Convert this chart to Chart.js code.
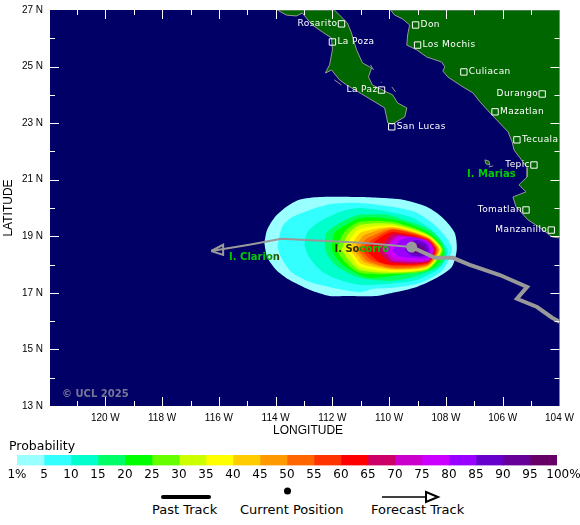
<!DOCTYPE html>
<html>
<head>
<meta charset="utf-8">
<script src="https://cdn.jsdelivr.net/npm/chart.js@4/dist/chart.umd.js"></script>
<style>
  body { margin: 0; background: #fff; }
  canvas, svg, .txt { position: absolute; }
  .txt { font: 13px "DejaVu Sans"; color: #000; white-space: nowrap; }
</style>
</head>
<body>
<canvas id="map" width="580" height="440" style="left:0;top:0"></canvas>
<canvas id="bar" width="580" height="42" style="left:0;top:440px"></canvas>
<div class="txt" style="left:9px;top:438px;font-size:12.5px">Probability</div>
<svg width="580" height="30" style="left:0;top:482px">
  <line x1="163" y1="15" x2="209" y2="15" stroke="#000" stroke-width="4" stroke-linecap="round"/>
  <circle cx="287.5" cy="9" r="3.5" fill="#000"/>
  <line x1="382" y1="15" x2="426" y2="15" stroke="#000" stroke-width="1.5"/>
  <polygon points="426,10 438,15 426,20" fill="none" stroke="#000" stroke-width="2"/>
</svg>
<div class="txt" style="left:152px;top:502px">Past Track</div>
<div class="txt" style="left:240px;top:502px">Current Position</div>
<div class="txt" style="left:371px;top:502px">Forecast Track</div>
<script>
// axis ticks
const lonTicks = [-120, -118, -116, -114, -112, -110, -108, -106, -104];

// colour key, one colour per probability band
const probLabels = ['1%', '5', '10', '15', '20', '25', '30', '35', '40', '45', '50', '55', '60', '65', '70', '75', '80', '85', '90', '95', '100%'];
const bandColors = ['#99FFFF', '#33FFFF', '#00FFCC', '#00FF66', '#00FF00', '#66FF00', '#CCFF00', '#FFFF00', '#FFCC00', '#FF9900',
  '#FF6600', '#FF3300', '#FF0000', '#CC0066', '#CC00CC', '#CC00FF', '#9900FF', '#6600CC', '#660099', '#660066'];

// probability outlines as [lon, lat], lowest band first
const contours = [
  [[-114.40,18.77],[-114.30,19.23],[-114.05,19.65],[-113.62,20.04],[-113.17,20.29],[-112.46,20.39],[-111.04,20.39],[-110.34,20.36],[-109.52,20.29],[-108.68,20.04],[-108.11,19.65],[-107.69,19.12],[-107.62,18.52],[-107.79,17.92],[-108.32,17.53],[-109.03,17.21],[-109.88,17.00],[-110.44,16.89],[-111.57,16.89],[-112.10,16.89],[-112.81,17.11],[-113.52,17.46],[-113.98,17.81],[-114.30,18.27]],
  [[-113.94,18.62],[-113.77,19.33],[-113.41,19.68],[-112.21,20.11],[-111.04,20.18],[-109.88,20.04],[-109.03,19.83],[-108.32,19.33],[-107.93,18.87],[-107.79,18.52],[-108.11,17.81],[-108.92,17.35],[-109.88,17.18],[-110.59,17.14],[-111.04,17.03],[-112.00,17.18],[-112.81,17.39],[-113.45,17.74],[-113.80,18.24]],
  [[-112.99,18.70],[-112.88,19.15],[-112.46,19.51],[-111.75,19.86],[-111.04,20.00],[-109.98,19.86],[-109.17,19.65],[-108.50,19.23],[-108.11,18.77],[-107.93,18.45],[-108.22,17.88],[-109.03,17.46],[-109.98,17.32],[-111.04,17.28],[-111.75,17.46],[-112.35,17.74],[-112.81,18.24]],
  [[-112.28,18.70],[-112.21,19.12],[-111.86,19.40],[-111.40,19.65],[-111.04,19.76],[-110.09,19.76],[-109.28,19.51],[-108.57,19.23],[-108.18,18.87],[-108.01,18.45],[-108.08,18.09],[-108.36,17.85],[-109.17,17.56],[-109.98,17.42],[-111.04,17.53],[-111.82,17.92],[-112.18,18.34]],
  [[-112.03,18.59],[-111.93,19.12],[-111.65,19.33],[-111.04,19.65],[-110.23,19.65],[-109.38,19.47],[-108.64,19.15],[-108.29,18.87],[-108.08,18.52],[-108.18,18.16],[-108.46,17.88],[-109.17,17.71],[-109.88,17.60],[-110.69,17.53],[-111.04,17.63],[-111.65,17.99],[-111.93,18.34]],
  [[-111.86,18.52],[-111.61,19.12],[-111.04,19.51],[-109.88,19.51],[-108.64,19.08],[-108.11,18.52],[-108.64,17.81],[-109.88,17.67],[-111.04,17.71],[-111.57,18.09]],
  [[-111.68,18.52],[-111.47,19.05],[-111.04,19.40],[-109.88,19.44],[-108.64,19.05],[-108.15,18.52],[-108.64,17.85],[-109.88,17.71],[-111.04,17.81],[-111.43,18.16]],
  [[-111.54,18.52],[-111.33,18.98],[-111.04,19.26],[-109.88,19.37],[-108.64,19.01],[-108.18,18.52],[-108.64,17.88],[-109.88,17.74],[-111.04,17.92],[-111.29,18.24]],
  [[-111.40,18.52],[-111.22,18.87],[-110.97,19.15],[-109.88,19.33],[-108.64,18.98],[-108.22,18.52],[-108.64,17.92],[-109.88,17.81],[-110.97,18.02],[-111.19,18.27]],
  [[-111.26,18.52],[-111.08,18.80],[-110.87,19.05],[-109.88,19.30],[-108.64,18.94],[-108.25,18.52],[-108.64,17.95],[-109.88,17.85],[-110.87,18.09],[-111.08,18.31]],
  [[-111.12,18.52],[-110.97,18.73],[-110.76,18.94],[-109.88,19.26],[-108.64,18.94],[-108.29,18.52],[-108.64,17.99],[-109.88,17.88],[-110.76,18.13],[-110.97,18.34]],
  [[-110.97,18.52],[-110.83,18.70],[-110.62,18.87],[-109.88,19.23],[-108.64,18.91],[-108.32,18.52],[-108.64,18.02],[-109.88,17.95],[-110.62,18.16],[-110.83,18.34]],
  [[-110.87,18.52],[-110.62,18.73],[-110.34,18.94],[-109.88,19.15],[-108.64,18.87],[-108.36,18.52],[-108.64,18.06],[-109.88,17.99],[-110.34,18.09],[-110.62,18.31]],
  [[-110.41,18.52],[-110.16,18.77],[-109.88,19.08],[-109.28,19.01],[-108.64,18.84],[-108.39,18.52],[-108.64,18.09],[-109.88,18.06],[-110.20,18.27]],
  [[-110.20,18.52],[-109.98,18.80],[-109.74,19.01],[-109.21,18.98],[-108.64,18.84],[-108.43,18.52],[-108.64,18.13],[-109.88,18.13],[-110.05,18.31]],
  [[-110.05,18.52],[-109.84,18.84],[-109.63,18.98],[-109.14,18.94],[-108.64,18.80],[-108.46,18.52],[-108.64,18.16],[-109.77,18.20],[-109.95,18.34]],
  [[-109.88,18.52],[-109.70,18.80],[-109.42,18.94],[-109.07,18.94],[-108.64,18.77],[-108.54,18.52],[-108.64,18.24],[-109.28,18.24],[-109.70,18.31]],
  [[-109.45,18.52],[-109.28,18.77],[-109.03,18.87],[-108.71,18.73],[-108.61,18.52],[-108.71,18.31],[-109.21,18.31]],
  [[-109.21,18.52],[-108.99,18.73],[-108.78,18.66],[-108.71,18.52],[-108.82,18.38],[-109.10,18.38]]
];

// storm track
const currentPosition = [-109.21, 18.62];
const pastTrack = [[-109.21,18.62],[-108.39,18.24],[-107.76,18.24],[-107.16,17.99],[-106.10,17.63],[-105.14,17.21],[-105.50,16.79],[-104.79,16.50],[-104.26,16.12],[-103.98,15.97]];
const forecastTrack = [[-109.21,18.62],[-110.97,18.77],[-113.80,18.91],[-114.93,18.70],[-116.27,18.48]];
const forecastHead = [[-116.27,18.48],[-115.85,18.70],[-115.85,18.34],[-116.27,18.48]];

// coastlines
const mainland = [[-109.95,27],[-109.81,26.82],[-109.52,26.68],[-109.28,26.47],[-109.35,26.12],[-109.38,25.76],[-109.03,25.59],[-108.68,25.34],[-108.15,25.16],[-108.04,24.99],[-108.11,24.84],[-107.93,24.63],[-107.40,24.28],[-107.05,24.07],[-106.80,23.75],[-106.38,23.29],[-105.81,22.69],[-105.67,22.34],[-105.60,22.05],[-105.39,21.77],[-105.14,21.42],[-105.14,21.10],[-105.43,20.82],[-105.18,20.57],[-105.64,20.39],[-105.53,20.04],[-105.11,19.58],[-104.68,19.30],[-104.26,18.98],[-104.01,18.94],[-104,18.94],[-104,27],[-109.95,27]];
const baja = [[-113.94,27],[-113.62,26.82],[-113.27,26.79],[-113.06,26.89],[-112.71,26.47],[-112.35,26.22],[-112.03,26.01],[-112.00,25.59],[-112.10,25.06],[-112.25,24.77],[-112.03,24.88],[-111.75,24.53],[-111.50,24.35],[-110.80,23.93],[-110.16,23.54],[-110.05,23.01],[-109.88,22.97],[-109.45,23.22],[-109.38,23.54],[-109.70,23.71],[-109.88,24.00],[-110.09,24.10],[-110.59,24.35],[-110.73,24.63],[-110.62,24.95],[-110.94,25.13],[-111.15,25.59],[-111.33,26.19],[-111.47,26.54],[-111.75,26.82],[-111.93,27],[-113.94,27]];
const islands = [
  [[-110.66,25.06],[-110.55,24.88]],
  [[-109.91,24.28],[-109.77,24.10]],
  [[-110.30,24.46],[-110.27,24.43]],
  [[-111.93,24.53],[-111.68,24.35]],
  [[-106.63,21.70],[-106.49,21.66],[-106.45,21.52],[-106.59,21.56],[-106.63,21.70]],
  [[-106.49,21.45],[-106.34,21.49]]
];

// towns and island names
const cityNames = ['Rosarito', 'La Poza', 'Don', 'Los Mochis', 'Culiacan', 'Durango', 'Mazatlan', 'La Paz', 'San Lucas', 'Tecuala', 'Tepic', 'Tomatlan', 'Manzanillo'];
const cityLon = [-111.68, -112.00, -109.07, -109.00, -107.37, -104.61, -106.27, -110.27, -109.91, -105.50, -104.90, -105.18, -104.29];
const cityLat = [26.51, 25.87, 26.47, 25.76, 24.81, 24.03, 23.40, 24.17, 22.87, 22.41, 21.52, 19.93, 19.22];
const namesOnLeft = ['Rosarito', 'Durango', 'La Paz', 'Tepic', 'Tomatlan', 'Manzanillo'];
const islandNames = ['I. Marias', 'I. Socorro', 'I. Clarion'];
const islandLon = [-107.26, -111.93, -115.64];
const islandLat = [21.20, 18.55, 18.25];

const toPoints = (pairs) => pairs.map(([x, y]) => ({ x, y }));
const closed = (pairs) => toPoints(pairs.concat([pairs[0]]));

const landStyle = { showLine: true, fill: 'shape', backgroundColor: '#006600', borderColor: '#999999', borderWidth: 1, pointRadius: 0 };

const contourSets = contours.map((outline, i) => ({
  data: closed(outline),
  showLine: true,
  fill: 'shape',
  tension: 0.25,
  backgroundColor: bandColors[i],
  borderColor: bandColors[i],
  borderWidth: 0,
  pointRadius: 0
})).reverse();

// first dataset in the list is painted last
const mapSets = [
  { data: [{ x: currentPosition[0], y: currentPosition[1] }], pointRadius: 5.5, pointBackgroundColor: '#999999', pointBorderWidth: 0 },
  { data: toPoints(pastTrack), showLine: true, borderColor: '#999999', borderWidth: 4, pointRadius: 0 },
  { data: toPoints(forecastTrack), showLine: true, borderColor: '#999999', borderWidth: 2, pointRadius: 0 },
  { data: toPoints(forecastHead), showLine: true, borderColor: '#999999', borderWidth: 2, pointRadius: 0 },
  {
    data: cityLon.map((x, i) => ({ x, y: cityLat[i] })),
    pointStyle: 'rect', pointRadius: 4.5, pointBorderColor: '#ffffff', pointBorderWidth: 1, pointBackgroundColor: 'transparent'
  },
  ...contourSets,
  ...islands.map((isle) => ({ data: toPoints(isle), ...landStyle })),
  { data: toPoints(baja), ...landStyle },
  { data: toPoints(mainland), ...landStyle }
];

// ocean behind everything
const oceanFill = {
  id: 'oceanFill',
  beforeDatasetsDraw(chart) {
    const { ctx, chartArea: area } = chart;
    ctx.save();
    ctx.fillStyle = '#000066';
    ctx.fillRect(area.left, area.top, area.right - area.left, area.bottom - area.top);
    ctx.restore();
  }
};

// inward ticks on all four sides, town and island names
const mapMarks = {
  id: 'mapMarks',
  afterDatasetsDraw(chart) {
    const { ctx, chartArea: area, scales: { x, y } } = chart;
    ctx.save();
    ctx.strokeStyle = '#ffffff';
    ctx.lineWidth = 1;
    ctx.beginPath();
    for (let lon = -121; lon < -104; lon++) {
      const px = Math.round(x.getPixelForValue(lon)) + 0.5;
      const len = lon % 2 === 0 ? 9 : 5;
      ctx.moveTo(px, area.top); ctx.lineTo(px, area.top + len);
      ctx.moveTo(px, area.bottom); ctx.lineTo(px, area.bottom - len);
    }
    for (let lat = 14; lat < 27; lat++) {
      const py = Math.round(y.getPixelForValue(lat)) + 0.5;
      const len = lat % 2 === 1 ? 9 : 5;
      ctx.moveTo(area.left, py); ctx.lineTo(area.left + len, py);
      ctx.moveTo(area.right, py); ctx.lineTo(area.right - len, py);
    }
    ctx.stroke();

    ctx.textBaseline = 'middle';
    ctx.fillStyle = '#ffffff';
    ctx.font = '9px "DejaVu Sans"';
    ctx.letterSpacing = '0.4px';
    cityNames.forEach((name, i) => {
      const onLeft = namesOnLeft.includes(name);
      ctx.textAlign = onLeft ? 'right' : 'left';
      ctx.fillText(name, x.getPixelForValue(cityLon[i]) + (onLeft ? -4 : 5), y.getPixelForValue(cityLat[i]));
    });

    ctx.letterSpacing = '0px';
    ctx.textAlign = 'left';
    ctx.font = 'bold 10px "DejaVu Sans"';
    islandNames.forEach((name, i) => {
      const px = x.getPixelForValue(islandLon[i]);
      const w = ctx.measureText(name).width;
      const shade = ctx.createLinearGradient(px, 0, px + w, 0);
      if (name === 'I. Socorro') {
        shade.addColorStop(0, '#2e3300'); shade.addColorStop(0.42, '#2e3300'); shade.addColorStop(0.5, '#00cc00');
      } else if (name === 'I. Clarion') {
        shade.addColorStop(0, '#00cc00'); shade.addColorStop(0.7, '#00cc00'); shade.addColorStop(1, '#2e3300');
      } else {
        shade.addColorStop(0, '#00cc00'); shade.addColorStop(1, '#00cc00');
      }
      ctx.fillStyle = shade;
      ctx.fillText(name, px, y.getPixelForValue(islandLat[i]));
    });

    ctx.fillStyle = '#777799';
    ctx.fillText('\u00A9 UCL 2025', area.left + 12, area.bottom - 12);
    ctx.restore();
  }
};

new Chart(document.getElementById('map'), {
  type: 'scatter',
  data: { datasets: mapSets },
  plugins: [oceanFill, mapMarks],
  options: {
    responsive: false,
    animation: false,
    layout: { autoPadding: false, padding: { top: 10, right: 20.5, left: 0, bottom: 0 } },
    plugins: { legend: { display: false }, tooltip: { enabled: false } },
    elements: { line: { tension: 0 } },
    scales: {
      x: {
        type: 'linear', min: -121.95, max: -104,
        grid: { display: false, drawTicks: false }, border: { display: false },
        afterFit(scale) { scale.height = 34; scale.paddingLeft = 0; scale.paddingRight = 0; },
        afterBuildTicks(scale) { scale.ticks = lonTicks.map((value) => ({ value })); },
        title: { display: true, text: '  LONGITUDE', color: '#000', font: { family: '"Liberation Sans"', size: 12 }, padding: { top: 0, bottom: 2 } },
        ticks: {
          autoSkip: false, maxRotation: 0, color: '#000', padding: 6,
          font: { family: '"Liberation Sans"', size: 10 },
          callback: (v) => `${-v} W`
        }
      },
      y: {
        type: 'linear', min: 13, max: 27,
        grid: { display: false, drawTicks: false }, border: { display: false },
        afterFit(scale) { scale.width = 50; scale.paddingTop = 0; scale.paddingBottom = 0; },
        title: { display: true, text: 'LATITUDE', color: '#000', font: { family: '"Liberation Sans"', size: 12 }, padding: { top: 1, bottom: 0 } },
        ticks: {
          stepSize: 2, autoSkip: false, color: '#000', padding: 7,
          font: { family: '"Liberation Sans"', size: 10 },
          callback: (v) => `${v} N`
        }
      }
    }
  }
});

new Chart(document.getElementById('bar'), {
  type: 'bar',
  data: {
    labels: ['Probability'],
    datasets: bandColors.map((color, i) => ({ data: [[i, i + 1]], backgroundColor: color, barPercentage: 1, categoryPercentage: 1 }))
  },
  options: {
    indexAxis: 'y',
    responsive: false,
    animation: false,
    layout: { autoPadding: false, padding: { top: 15, left: 17, right: 23, bottom: 0 } },
    plugins: { legend: { display: false }, tooltip: { enabled: false } },
    scales: {
      y: { display: false, stacked: true },
      x: {
        type: 'linear', min: 0, max: 20, stacked: false,
        grid: { display: false, drawTicks: false }, border: { display: false },
        afterFit(scale) { scale.height = 16.5; scale.paddingLeft = 0; scale.paddingRight = 0; },
        afterBuildTicks(scale) { scale.ticks[20].value = 20.24; },
        ticks: {
          stepSize: 1, autoSkip: false, maxRotation: 0, color: '#000', padding: 2,
          font: { family: '"DejaVu Sans"', size: 12 },
          callback: (v, i) => probLabels[i]
        }
      }
    }
  }
});
</script>
</body>
</html>
